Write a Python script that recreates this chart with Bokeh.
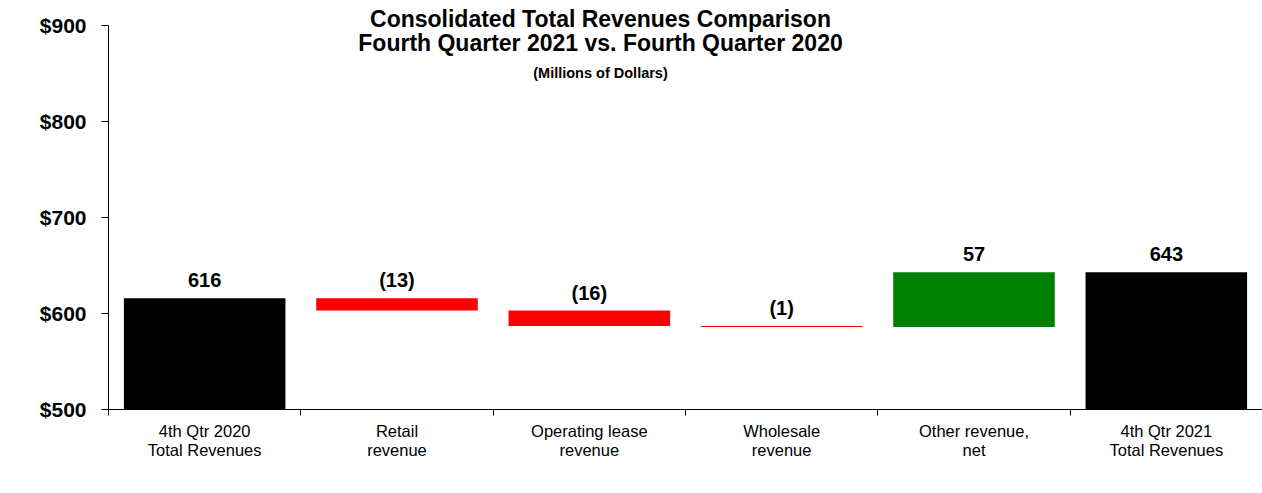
from bokeh.plotting import figure
from bokeh.models import FixedTicker, Label, NumeralTickFormatter, ColumnDataSource, Range1d, LabelSet
from bokeh.core.properties import value
from bokeh.embed import file_html
from bokeh.resources import INLINE

categories = ["4th Qtr 2020\nTotal Revenues", "Retail\nrevenue", "Operating lease\nrevenue",
              "Wholesale\nrevenue", "Other revenue,\nnet", "4th Qtr 2021\nTotal Revenues"]
start_total = 616
changes = [-13, -16, -1, 57]
end_total = 643
value_labels = ["616", "(13)", "(16)", "(1)", "57", "643"]
y_ticks = [500, 600, 700, 800, 900]
y_floor = 500
y_ceiling = 900

FONT = "Liberation Sans"

W, H = 1262, 493
LEFT, BOTTOM = 108, 84
AXIS_TOP_PX = 25  # pixel row of the top of the value axis

# waterfall geometry from the data
bottoms, tops, colors = [y_floor], [start_total], ["#000000"]
running = start_total
for d in changes:
    bottoms.append(min(running, running + d))
    tops.append(max(running, running + d))
    colors.append("#FF0000" if d < 0 else "#008000")
    running += d
bottoms.append(y_floor)
tops.append(end_total)
colors.append("#000000")
centers = [i + 0.5 for i in range(len(categories))]

src = ColumnDataSource(dict(x=centers, bottom=bottoms, top=tops, color=colors, label=value_labels))

# frame reaches the top of the canvas so the title is not clipped; axis line is bounded to 500..900
frame_h = H - BOTTOM
axis_h = frame_h - AXIS_TOP_PX
y_end = y_floor + (y_ceiling - y_floor) * frame_h / axis_h

p = figure(width=W, height=H, output_backend="svg", toolbar_location=None,
           x_range=Range1d(0, len(categories)), y_range=Range1d(y_floor, y_end),
           min_border_left=LEFT, min_border_right=0, min_border_top=0, min_border_bottom=BOTTOM)
p.outline_line_color = None
p.xgrid.visible = False
p.ygrid.visible = False
p.background_fill_color = "white"
p.border_fill_color = "white"

p.vbar(x="x", bottom="bottom", top="top", width=0.84, fill_color="color", line_color=None, source=src)

labels = LabelSet(x="x", y="top", text="label", source=src, text_align="center",
                  text_baseline="alphabetic", y_offset=11, text_font=value(FONT),
                  text_font_size="20px", text_font_style="bold", text_color="black")
p.add_layout(labels)

# x axis
p.xaxis.ticker = FixedTicker(ticks=centers, minor_ticks=list(range(len(categories) + 1)))
p.xaxis.major_label_overrides = {c: lab for c, lab in zip(centers, categories)}
p.xaxis.major_tick_out = 0
p.xaxis.major_tick_in = 0
p.xaxis.minor_tick_out = 6
p.xaxis.minor_tick_in = 0
p.xaxis.minor_tick_line_color = "black"
p.xaxis.axis_line_color = "black"
p.xaxis.major_label_text_font = FONT
p.xaxis.major_label_text_font_size = "16.5px"
p.xaxis.major_label_text_line_height = 1.1
p.xaxis.major_label_text_color = "black"
p.xaxis.major_label_standoff = 6

# y axis
p.yaxis.ticker = FixedTicker(ticks=y_ticks)
p.yaxis.bounds = (y_floor, y_ceiling)
p.yaxis.formatter = NumeralTickFormatter(format="$0")
p.yaxis.major_tick_out = 7
p.yaxis.major_tick_in = 0
p.yaxis.minor_tick_out = 0
p.yaxis.minor_tick_in = 0
p.yaxis.axis_line_color = "black"
p.yaxis.major_tick_line_color = "black"
p.yaxis.major_label_text_font = FONT
p.yaxis.major_label_text_font_size = "21px"
p.yaxis.major_label_text_font_style = "bold"
p.yaxis.major_label_text_color = "black"
p.yaxis.major_label_standoff = 15

# titles
for txt, y, size in [("Consolidated Total Revenues Comparison", 391, "23px"),
                     ("Fourth Quarter 2021 vs. Fourth Quarter 2020", 367, "23px"),
                     ("(Millions of Dollars)", 337, "14.5px")]:
    p.add_layout(Label(x=492, y=y, x_units="screen", y_units="screen", text=txt,
                       text_align="center", text_baseline="alphabetic", text_font=FONT,
                       text_font_size=size, text_font_style="bold", text_color="black"))

open("out.html", "w").write(file_html(p, INLINE))
